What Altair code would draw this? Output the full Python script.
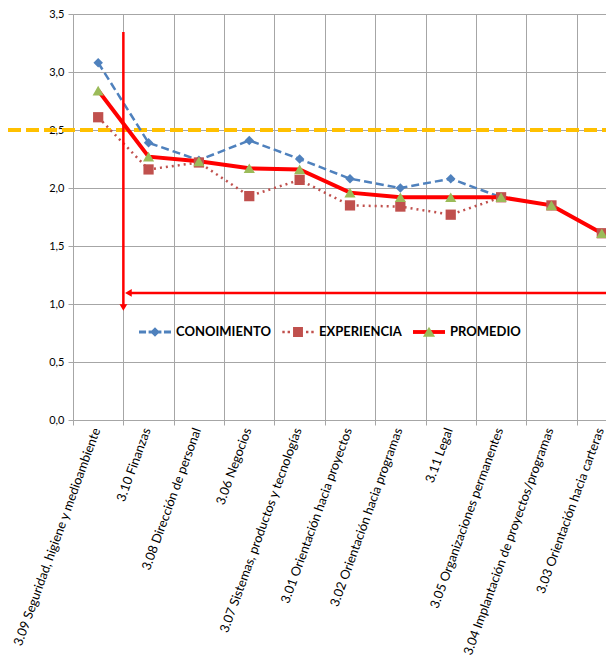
import altair as alt
import pandas as pd

categories = [
    "3.09 Seguridad, higiene y medioambiente",
    "3.10 Finanzas",
    "3.08 Dirección de personal",
    "3.06 Negocios",
    "3.07 Sistemas, productos y tecnologías",
    "3.01 Orientación hacia proyectos",
    "3.02 Orientación hacia programas",
    "3.11 Legal",
    "3.05 Organizaciones permanentes",
    "3.04 Implantación de proyectos/programas",
    "3.03 Orientación hacia carteras",
]
conocimiento = [3.08, 2.39, 2.24, 2.41, 2.25, 2.08, 2.00, 2.08, 1.92, 1.85, 1.61]
experiencia = [2.61, 2.16, 2.22, 1.93, 2.07, 1.85, 1.84, 1.77, 1.92, 1.85, 1.61]
promedio = [2.84, 2.27, 2.23, 2.17, 2.16, 1.96, 1.92, 1.92, 1.92, 1.85, 1.61]
series_names = ["CONOIMIENTO", "EXPERIENCIA", "PROMEDIO"]
y_ticks = [0.0, 0.5, 1.0, 1.5, 2.0, 2.5, 3.0, 3.5]
threshold = [2.5]

arrow_v_cat = ["3.10 Finanzas"]
arrow_v_top = [3.345]
arrow_v_head = [0.97]
arrow_h_start = ["3.10 Finanzas"]
arrow_h_end = ["3.03 Orientación hacia carteras"]
arrow_h_y = [1.095]

FONT = "Lato"
GRID = "#A6A6A6"

x_scale = alt.Scale(domain=categories, paddingInner=0, paddingOuter=0)
y_scale = alt.Scale(domain=[0, 3.5], nice=False)

x_axis = alt.Axis(
    title=None, labelAngle=-70, labelFont=FONT, labelFontSize=12.8, labelColor="#000",
    tickBand="extent", grid=True, gridColor=GRID, domainColor=GRID, tickColor=GRID,
    tickSize=5, labelPadding=3, labelLimit=500, labelAlign="right", labelBaseline="middle",
    labelOffset=-2,
)
y_axis = alt.Axis(
    title=None, values=y_ticks, labelExpr="replace(format(datum.value, '.1f'), '.', ',')",
    labelFont=FONT, labelFontSize=11, labelColor="#000", grid=True, gridColor=GRID,
    domainColor=GRID, tickColor=GRID, tickSize=5, labelPadding=4,
)


def X(field, band=0.5):
    return alt.X(f"{field}:N", scale=x_scale, axis=x_axis, sort=categories, bandPosition=band)


def Y(field):
    return alt.Y(f"{field}:Q", scale=y_scale, axis=y_axis)


df_c = pd.DataFrame({"cat": categories, "v": conocimiento})
df_e = pd.DataFrame({"cat": categories, "v": experiencia})
df_p = pd.DataFrame({"cat": categories, "v": promedio})

base_grid = alt.Chart(df_p).mark_point(opacity=0).encode(x=X("cat"), y=Y("v"))

ref = alt.Chart(pd.DataFrame({"v": threshold})).mark_rule(
    color="#FFC000", strokeWidth=4, strokeDash=[13, 5]
).encode(y=Y("v"), x=alt.value(-65), x2=alt.value(554))

line_c = alt.Chart(df_c).mark_line(color="#4F81BD", strokeWidth=2.5, strokeDash=[8, 4]).encode(x=X("cat"), y=Y("v"))
line_e = alt.Chart(df_e).mark_line(color="#C0504D", strokeWidth=2.5, strokeDash=[2, 4]).encode(x=X("cat"), y=Y("v"))
line_p = alt.Chart(df_p).mark_line(color="#FF0000", strokeWidth=4).encode(x=X("cat"), y=Y("v"))

pt_c = alt.Chart(df_c).mark_point(shape="diamond", filled=True, size=90, color="#4F81BD", opacity=1).encode(x=X("cat"), y=Y("v"))
pt_e = alt.Chart(df_e).mark_point(shape="square", filled=True, size=105, color="#C0504D", opacity=1).encode(x=X("cat"), y=Y("v"))
pt_p = alt.Chart(df_p).mark_point(shape="triangle-up", filled=True, size=125, color="#9BBB59", opacity=1).encode(x=X("cat"), y=Y("v"))

df_av = pd.DataFrame({"cat": arrow_v_cat, "top": arrow_v_top, "head": arrow_v_head})
arr_v = alt.Chart(df_av).mark_rule(color="#FF0000", strokeWidth=2.5).encode(
    x=X("cat", 0), y=Y("top"), y2=alt.Y2("head:Q")
)
arr_v_head = alt.Chart(df_av).mark_point(shape="triangle-down", filled=True, size=60, color="#FF0000", opacity=1).encode(
    x=X("cat", 0), y=Y("head")
)
df_ah = pd.DataFrame({"c1": arrow_h_start, "c2": arrow_h_end, "v": arrow_h_y})
arr_h = alt.Chart(df_ah).mark_rule(color="#FF0000", strokeWidth=2.5).encode(
    x=X("c1", 0.1), x2=alt.X2("c2:N", bandPosition=1), y=Y("v")
)
arr_h_head = alt.Chart(df_ah).mark_point(shape="triangle-left", filled=True, size=60, color="#FF0000", opacity=1).encode(
    x=X("c1", 0.1), y=Y("v")
)

# legend symbols (unit box -1..1, scaled by 16px)
path_c = ("M-1,-0.09L-0.56,-0.09L-0.56,0.09L-1,0.09Z "
          "M-0.4,-0.09L0.4,-0.09L0.4,0.09L-0.4,0.09Z "
          "M0.56,-0.09L1,-0.09L1,0.09L0.56,0.09Z "
          "M0,-0.3L0.3,0L0,0.3L-0.3,0Z")
path_e = ("M-0.98,-0.08L-0.83,-0.08L-0.83,0.08L-0.98,0.08Z "
          "M-0.65,-0.08L-0.5,-0.08L-0.5,0.08L-0.65,0.08Z "
          "M-0.31,-0.31L0.31,-0.31L0.31,0.31L-0.31,0.31Z "
          "M0.5,-0.08L0.65,-0.08L0.65,0.08L0.5,0.08Z "
          "M0.83,-0.08L0.98,-0.08L0.98,0.08L0.83,0.08Z")
path_p = "M-1,-0.12L1,-0.12L1,0.12L-1,0.12Z"
path_none = "M0,0Z"
path_tri = "M0,-0.33L0.38,0.3L-0.38,0.3Z"

leg_common = dict(
    orient="none", legendX=66, legendY=302, direction="horizontal", columns=3, title=None,
    labelFont=FONT, labelFontSize=13, labelFontWeight="bold", labelColor="#000",
    labelOffset=5, columnPadding=11, padding=0, symbolStrokeWidth=0, symbolSize=1024,
)
legend_df = pd.DataFrame({"s": series_names})
legA = alt.Chart(legend_df).mark_point(filled=True, size=1024, strokeWidth=0, opacity=1).encode(
    shape=alt.Shape("s:N", scale=alt.Scale(domain=series_names, range=[path_c, path_e, path_p]), legend=alt.Legend(**leg_common)),
    fill=alt.Fill("s:N", scale=alt.Scale(domain=series_names, range=["#4F81BD", "#C0504D", "#FF0000"]), legend=alt.Legend(**leg_common)),
).transform_filter("false")
legB = alt.Chart(legend_df).mark_point(filled=True, size=1024, strokeWidth=0, opacity=1).encode(
    shape=alt.Shape("s:N", scale=alt.Scale(domain=series_names, range=[path_none, path_none, path_tri]), legend=alt.Legend(labelOpacity=0, **leg_common)),
    fill=alt.Fill("s:N", scale=alt.Scale(domain=series_names, range=["#9BBB59", "#9BBB59", "#9BBB59"]), legend=alt.Legend(labelOpacity=0, **leg_common)),
).transform_filter("false")

chart = alt.layer(
    base_grid, ref, line_c, line_e, line_p, pt_c, pt_e, pt_p,
    arr_v, arr_v_head, arr_h, arr_h_head, legA, legB,
).resolve_scale(shape="independent", fill="independent").properties(
    width=554, height=406,
    autosize=alt.AutoSizeParams(type="none"),
    padding={"left": 65, "top": 6, "right": -21, "bottom": 244},
    background="white",
).configure_view(strokeWidth=0)

chart.save("out.html", embed_options={"renderer": "svg", "actions": False})
